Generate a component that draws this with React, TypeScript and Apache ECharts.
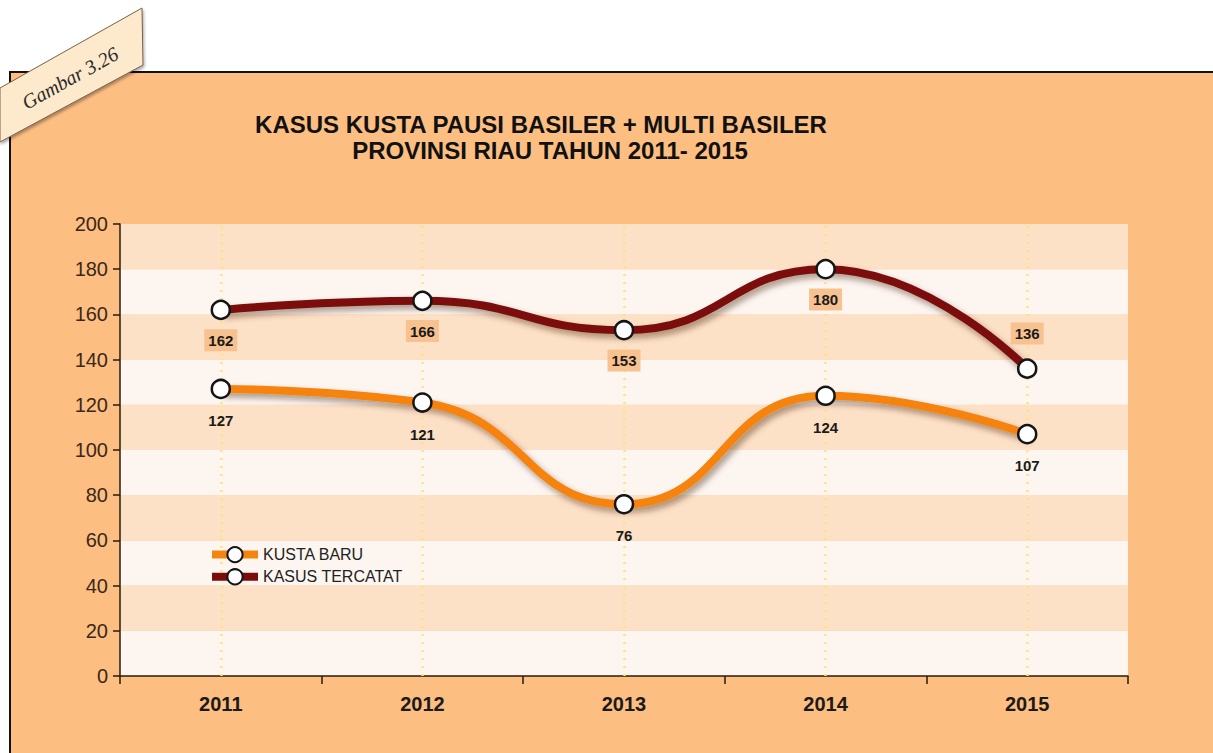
import React, { useEffect, useRef } from "react";
import * as echarts from "echarts";

const years = ["2011", "2012", "2013", "2014", "2015"];
const kustaBaru = [127, 121, 76, 124, 107];
const kasusTercatat = [162, 166, 153, 180, 136];
const titleLine1 = "KASUS KUSTA PAUSI BASILER + MULTI BASILER";
const titleLine2 = "PROVINSI RIAU TAHUN 2011- 2015";
const figureLabel = "Gambar 3.26";

export default function App() {
  const ref = useRef<HTMLDivElement>(null);
  useEffect(() => {
    if (!ref.current) return;
    const chart = echarts.init(ref.current, null, { renderer: "svg" });
    const shadow = {
      shadowColor: "rgba(60,20,0,0.45)",
      shadowBlur: 6,
      shadowOffsetX: 3,
      shadowOffsetY: 4,
    };
    const font = "Liberation Sans, Arial, sans-serif";
    const titleStyle = {
      fontFamily: font,
      fontWeight: "bold",
      fontSize: 24,
      color: "#111",
    };
    chart.setOption({
      animation: false,
      backgroundColor: "#ffffff",
      title: [
        { text: titleLine1, left: 541, top: 112, textAlign: "center", padding: 0, textStyle: titleStyle },
        { text: titleLine2, left: 550, top: 138, textAlign: "center", padding: 0, textStyle: titleStyle },
      ],
      legend: {
        data: ["KUSTA BARU", "KASUS TERCATAT"],
        orient: "vertical",
        left: 203,
        top: 541,
        itemWidth: 46,
        itemHeight: 19,
        itemGap: 5,
        lineStyle: { width: 8 },
        textStyle: { fontFamily: font, fontSize: 16, color: "#222" },
      },
      grid: { left: 120, right: 85, top: 224, bottom: 77 },
      xAxis: {
        type: "category",
        data: years,
        boundaryGap: true,
        axisLine: { lineStyle: { color: "#2a1a0a", width: 1.5 } },
        axisTick: { show: true, length: 8, lineStyle: { color: "#2a1a0a", width: 1.5 } },
        axisLabel: {
          fontFamily: font,
          fontWeight: "bold",
          fontSize: 20,
          color: "#1a1a1a",
          margin: 18,
        },
        splitLine: { show: false },
      },
      yAxis: {
        type: "value",
        min: 0,
        max: 200,
        interval: 20,
        axisLine: { show: true, lineStyle: { color: "#2a1a0a", width: 1.5 } },
        axisTick: { show: true, length: 7, lineStyle: { color: "#2a1a0a", width: 1.5 } },
        axisLabel: {
          fontFamily: font,
          fontSize: 20,
          color: "#3a2818",
          margin: 12,
        },
        splitLine: { show: false },
        splitArea: { show: true, areaStyle: { color: ["#fdf6f0", "#fde1c6"] } },
      },
      graphic: [
        {
          type: "rect",
          z: -10,
          shape: { x: 10, y: 72, width: 1215, height: 700 },
          style: { fill: "#fdbe82", stroke: "#111", lineWidth: 2 },
        },
        {
          type: "polygon",
          z: 100,
          shape: { points: [[0, 88], [142, 8], [143, 65], [0, 142]] },
          style: {
            fill: "#fde9cc",
            stroke: "#7a6048",
            lineWidth: 1,
            shadowColor: "rgba(0,0,0,0.35)",
            shadowBlur: 3,
            shadowOffsetX: 1,
            shadowOffsetY: 2,
          },
        },
        {
          type: "text",
          z: 101,
          x: 70,
          y: 78,
          rotation: (29 * Math.PI) / 180,
          style: {
            text: figureLabel,
            fontFamily: "Liberation Serif, DejaVu Serif, serif",
            fontStyle: "italic",
            fontSize: 20,
            fill: "#2a2a2a",
            align: "center",
            verticalAlign: "middle",
          },
        },
      ],
      series: [
        {
          name: "guides",
          type: "line",
          z: 1,
          data: years.map(() => "-"),
          silent: true,
          markLine: {
            z: 1,
            silent: true,
            symbol: ["none", "none"],
            label: { show: false },
            lineStyle: { type: [2, 6], color: "#ffe37a", width: 2.5 },
            data: years.map((y) => ({ xAxis: y })),
          },
        },
        {
          name: "KUSTA BARU",
          type: "line",
          z: 3,
          data: kustaBaru,
          smooth: 0.5,
          symbol: "circle",
          symbolSize: 18,
          lineStyle: { color: "#f5830f", width: 8, ...shadow },
          itemStyle: { color: "#ffffff", borderColor: "#151515", borderWidth: 2.5 },
          label: {
            show: true,
            position: "bottom",
            distance: 14,
            fontFamily: font,
            fontWeight: "bold",
            fontSize: 15,
            color: "#1a1a1a",
          },
        },
        {
          name: "KASUS TERCATAT",
          type: "line",
          z: 4,
          data: kasusTercatat.map((v, i) =>
            i === kasusTercatat.length - 1
              ? { value: v, label: { position: "top", distance: 14 } }
              : v
          ),
          smooth: 0.5,
          symbol: "circle",
          symbolSize: 18,
          lineStyle: { color: "#7b0c0c", width: 8, ...shadow },
          itemStyle: { color: "#ffffff", borderColor: "#151515", borderWidth: 2.5 },
          label: {
            show: true,
            position: "bottom",
            distance: 9,
            fontFamily: font,
            fontWeight: "bold",
            fontSize: 15,
            color: "#1a1a1a",
            backgroundColor: "#f8c290",
            padding: [4, 4, 3, 4],
          },
        },
      ],
    });
    return () => chart.dispose();
  }, []);
  return (
    <div
      ref={ref}
      style={{ position: "fixed", left: 0, top: 0, width: 1213, height: 753 }}
    />
  );
}
